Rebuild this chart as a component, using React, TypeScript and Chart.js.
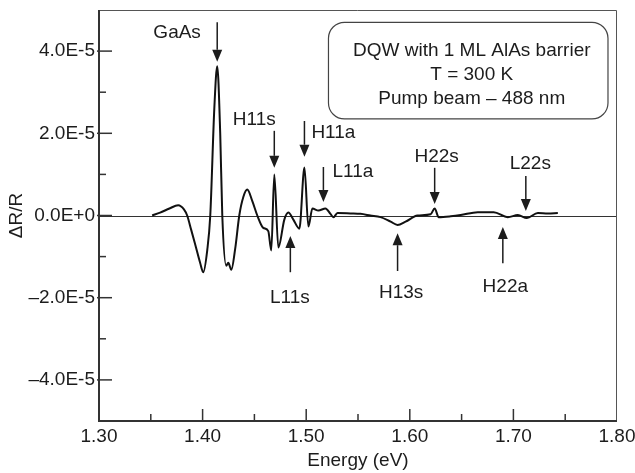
import React, { useEffect, useRef } from 'react';
import { Chart, registerables } from 'chart.js';

Chart.register(...registerables);

// Photon energy (eV)
const energy = [
  1.3513, 1.359, 1.368, 1.3764, 1.382, 1.3851, 1.389, 1.3928, 1.3976, 1.4006,
  1.4045, 1.4074, 1.4113, 1.4141, 1.417, 1.419, 1.4228, 1.4248, 1.4277, 1.4315,
  1.4354, 1.4393, 1.4431, 1.448, 1.4528, 1.4586, 1.4634, 1.4663, 1.4692, 1.4731,
  1.4789, 1.4828, 1.4876, 1.4934, 1.4983, 1.5021, 1.506, 1.5118, 1.5186, 1.5234,
  1.5263, 1.5302, 1.5427, 1.5524, 1.562, 1.5718, 1.5815, 1.5882, 1.5959, 1.6075,
  1.6201, 1.624, 1.6279, 1.6395, 1.6491, 1.6656, 1.681, 1.6946, 1.7043, 1.713,
  1.7236, 1.7333, 1.7429,
];

// ΔR/R signal
const deltaR = [
  0, 0.07e-5, 0.17e-5, 0.25e-5, 0.15e-5, 0, -0.35e-5, -0.7e-5, -1.15e-5, -1.38e-5,
  -0.84e-5, 0, 2.6e-5, 3.63e-5, 2.0e-5, 0, -1.22e-5, -1.15e-5, -1.32e-5, -0.8e-5,
  0, 0.45e-5, 0.63e-5, 0.35e-5, 0, -0.3e-5, -0.38e-5, -0.85e-5, 1.0e-5, -0.78e-5,
  -0.1e-5, 0.07e-5, -0.1e-5, -0.32e-5, 1.17e-5, -0.27e-5, 0.17e-5, 0.12e-5, 0.17e-5, 0.04e-5,
  -0.04e-5, 0.06e-5, 0.05e-5, 0.04e-5, 0, -0.04e-5, -0.15e-5, -0.23e-5, -0.15e-5, 0,
  0.03e-5, 0.17e-5, -0.04e-5, -0.02e-5, 0.01e-5, 0.08e-5, 0.08e-5, -0.04e-5, 0.01e-5, -0.06e-5,
  0.06e-5, 0.05e-5, 0.06e-5,
];

const xTickValues = [1.3, 1.35, 1.4, 1.45, 1.5, 1.55, 1.6, 1.65, 1.7, 1.75, 1.8];
const xTickLabels = ['1.30', '', '1.40', '', '1.50', '', '1.60', '', '1.70', '', '1.80'];
const yTickValues = [-4e-5, -3e-5, -2e-5, -1e-5, 0, 1e-5, 2e-5, 3e-5, 4e-5];
const yTickLabels = ['\u20134.0E-5', '', '\u20132.0E-5', '', '0.0E+0', '', '2.0E-5', '', '4.0E-5'];

// Peak markers: label, arrow energy, arrow tail value, arrow tip value, label energy, label value, align
const markerLabels = ['GaAs', 'H11s', 'H11a', 'L11a', 'H22s', 'L22s', 'L11s', 'H13s', 'H22a'];
const markerEnergy = [1.4141, 1.4692, 1.4983, 1.5166, 1.624, 1.712, 1.4847, 1.5882, 1.6898];
const markerTail = [4.7e-5, 2.06e-5, 2.3e-5, 1.18e-5, 1.16e-5, 0.96e-5, -1.38e-5, -1.35e-5, -1.16e-5];
const markerTip = [3.74e-5, 1.16e-5, 1.43e-5, 0.33e-5, 0.28e-5, 0.11e-5, -0.5e-5, -0.43e-5, -0.28e-5];
const markerLabelE = [1.3754, 1.4499, 1.505, 1.5253, 1.6259, 1.7163, 1.4842, 1.5916, 1.6922];
const markerLabelV = [4.45e-5, 2.33e-5, 2.01e-5, 1.06e-5, 1.43e-5, 1.26e-5, -1.99e-5, -1.89e-5, -1.74e-5];
const markerAlign = ['center', 'center', 'left', 'left', 'center', 'center', 'center', 'center', 'center'];

const infoLines = ['DQW with 1 ML AlAs barrier', 'T = 300 K', 'Pump beam \u2013 488 nm'];

const FONT_FAMILY = '"Liberation Sans", Arial, Helvetica, sans-serif';
const FONT = `19px ${FONT_FAMILY}`;
const INK = '#1c1c1c';

const framePlugin = {
  id: 'framePlugin',
  beforeDatasetsDraw(chart: any) {
    const { ctx, chartArea, scales } = chart;
    const { left, right, top, bottom } = chartArea;
    const xs = scales.x;
    const ys = scales.y;
    ctx.save();
    // zero line
    const y0 = Math.round(ys.getPixelForValue(0)) + 0.5;
    ctx.strokeStyle = '#333';
    ctx.lineWidth = 1;
    ctx.beginPath();
    ctx.moveTo(left, y0);
    ctx.lineTo(right, y0);
    ctx.stroke();
    // top/right frame
    ctx.strokeStyle = '#555';
    ctx.lineWidth = 1;
    ctx.beginPath();
    ctx.moveTo(left, top + 0.5);
    ctx.lineTo(right - 0.5, top + 0.5);
    ctx.lineTo(right - 0.5, bottom);
    ctx.stroke();
    // left/bottom axes
    ctx.strokeStyle = '#333';
    ctx.lineWidth = 2;
    ctx.beginPath();
    ctx.moveTo(left, top);
    ctx.lineTo(left, bottom);
    ctx.lineTo(right, bottom);
    ctx.stroke();
    // inward ticks
    ctx.lineWidth = 1.5;
    xTickValues.forEach((v, i) => {
      if (i === 0 || i === xTickValues.length - 1) return;
      const px = xs.getPixelForValue(v);
      const len = xTickLabels[i] ? 12 : 7;
      ctx.beginPath();
      ctx.moveTo(px, bottom);
      ctx.lineTo(px, bottom - len);
      ctx.stroke();
    });
    yTickValues.forEach((v, i) => {
      const py = ys.getPixelForValue(v);
      const major = !!yTickLabels[i];
      ctx.beginPath();
      ctx.moveTo(left - (major ? 2 : 0), py);
      ctx.lineTo(left + (major ? 13 : 7), py);
      ctx.stroke();
    });
    ctx.restore();
  },
  afterDatasetsDraw(chart: any) {
    const { ctx, scales } = chart;
    const xs = scales.x;
    const ys = scales.y;
    ctx.save();
    ctx.fillStyle = INK;
    ctx.strokeStyle = INK;
    ctx.font = FONT;
    ctx.textBaseline = 'middle';
    markerLabels.forEach((label, i) => {
      const px = xs.getPixelForValue(markerEnergy[i]);
      const pTail = ys.getPixelForValue(markerTail[i]);
      const pTip = ys.getPixelForValue(markerTip[i]);
      const dir = pTip > pTail ? 1 : -1;
      const headLen = 12;
      const headHalf = 5;
      ctx.lineWidth = 1.5;
      ctx.beginPath();
      ctx.moveTo(px, pTail);
      ctx.lineTo(px, pTip - dir * headLen);
      ctx.stroke();
      ctx.beginPath();
      ctx.moveTo(px, pTip);
      ctx.lineTo(px - headHalf, pTip - dir * headLen);
      ctx.lineTo(px + headHalf, pTip - dir * headLen);
      ctx.closePath();
      ctx.fill();
      ctx.textAlign = markerAlign[i] as CanvasTextAlign;
      ctx.fillText(label, xs.getPixelForValue(markerLabelE[i]), ys.getPixelForValue(markerLabelV[i]));
    });
    // info box
    const bx1 = xs.getPixelForValue(1.5215);
    const bx2 = xs.getPixelForValue(1.7913);
    const by1 = ys.getPixelForValue(4.7e-5);
    const by2 = ys.getPixelForValue(2.35e-5);
    ctx.strokeStyle = '#444';
    ctx.lineWidth = 1.2;
    ctx.beginPath();
    (ctx as any).roundRect(bx1, by1, bx2 - bx1, by2 - by1, 16);
    ctx.stroke();
    ctx.textAlign = 'center';
    const tx = xs.getPixelForValue(1.6598);
    const lineVals = [4.01e-5, 3.43e-5, 2.84e-5];
    infoLines.forEach((t, i) => {
      ctx.fillText(t, tx, ys.getPixelForValue(lineVals[i]));
    });
    ctx.restore();
  },
};

export default function App() {
  const canvasRef = useRef<HTMLCanvasElement | null>(null);

  useEffect(() => {
    if (!canvasRef.current) return;
    const points = energy.map((e, i) => ({ x: e, y: deltaR[i] }));
    const chart = new Chart(canvasRef.current, {
      type: 'line',
      data: {
        datasets: [
          {
            data: points,
            borderColor: '#111',
            borderWidth: 2,
            pointRadius: 0,
            cubicInterpolationMode: 'monotone',
            fill: false,
          },
        ],
      },
      options: {
        animation: false,
        responsive: true,
        maintainAspectRatio: false,
        layout: { padding: { top: 10, right: 18, left: 0, bottom: 0 }, autoPadding: false } as any,
        plugins: { legend: { display: false }, tooltip: { enabled: false } },
        scales: {
          x: {
            type: 'linear',
            min: 1.3,
            max: 1.8,
            afterBuildTicks: (scale: any) => {
              scale.ticks = xTickValues.map((v) => ({ value: v }));
            },
            afterFit: (scale: any) => {
              scale.height = 52;
              scale.paddingLeft = 0;
              scale.paddingRight = 0;
              scale.paddingTop = 0;
              scale.paddingBottom = 0;
            },
            grid: { display: false, drawTicks: false },
            border: { display: false },
            ticks: {
              autoSkip: false,
              maxRotation: 0,
              padding: 4,
              color: INK,
              font: { family: FONT_FAMILY, size: 19 },
              callback: (_v: any, i: number) => xTickLabels[i],
            },
            title: {
              display: true,
              text: 'Energy (eV)',
              color: INK,
              font: { family: FONT_FAMILY, size: 19 },
              padding: { top: 0, bottom: 1 },
            },
          },
          y: {
            type: 'linear',
            min: -5e-5,
            max: 5e-5,
            afterBuildTicks: (scale: any) => {
              scale.ticks = yTickValues.map((v) => ({ value: v }));
            },
            afterFit: (scale: any) => {
              scale.width = 99;
              scale.paddingLeft = 0;
              scale.paddingRight = 0;
              scale.paddingTop = 0;
              scale.paddingBottom = 0;
            },
            grid: { display: false, drawTicks: false },
            border: { display: false },
            ticks: {
              autoSkip: false,
              padding: 4,
              color: INK,
              font: { family: FONT_FAMILY, size: 19 },
              callback: (_v: any, i: number) => yTickLabels[i],
            },
            title: {
              display: true,
              text: '\u0394R/R',
              color: INK,
              font: { family: FONT_FAMILY, size: 19 },
              padding: { top: 5, bottom: 0 },
            },
          },
        },
      },
      plugins: [framePlugin],
    });
    return () => chart.destroy();
  }, []);

  return (
    <div style={{ position: 'absolute', left: 0, top: 0, width: 635, height: 473, background: '#fff' }}>
      <canvas ref={canvasRef} />
    </div>
  );
}
